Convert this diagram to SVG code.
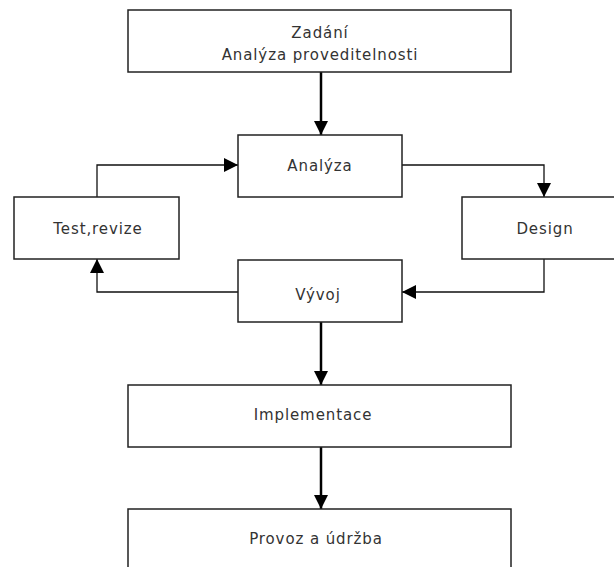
<svg xmlns="http://www.w3.org/2000/svg" width="614" height="567" viewBox="0 0 614 567">
<style>
  .box { fill: #ffffff; stroke: #222222; stroke-width: 1.5; }
  .lbl { font-family: "DejaVu Sans", Verdana, sans-serif; font-size: 15px; letter-spacing: 0.9px; fill: #333333; text-anchor: middle; }
  .thick { fill: none; stroke: #000000; stroke-width: 2.5; }
  .thin { fill: none; stroke: #111111; stroke-width: 1.3; }
</style>
<defs>
  <marker id="ah" markerUnits="userSpaceOnUse" viewBox="0 0 14 14" refX="14" refY="7" markerWidth="14" markerHeight="14" orient="auto">
    <path d="M0,0 L14,7 L0,14 Z" fill="#000000"/>
  </marker>
</defs>
<rect width="614" height="567" fill="#ffffff"/>
<g id="connectors">
  <line class="thick" x1="321" y1="72" x2="321" y2="135" marker-end="url(#ah)"/>
  <polyline class="thin" points="402,165 544,165 544,197" marker-end="url(#ah)"/>
  <polyline class="thin" points="544,259 544,292 402,292" marker-end="url(#ah)"/>
  <polyline class="thin" points="238,292 97,292 97,259" marker-end="url(#ah)"/>
  <polyline class="thin" points="97,197 97,165 238,165" marker-end="url(#ah)"/>
  <line class="thick" x1="321" y1="322" x2="321" y2="385" marker-end="url(#ah)"/>
  <line class="thick" x1="321" y1="447" x2="321" y2="509" marker-end="url(#ah)"/>
</g>
<g id="zadani">
  <rect class="box" x="128" y="10" width="383" height="62"/>
  <text class="lbl" x="320" y="38">Zadání</text>
  <text class="lbl" x="320" y="60">Analýza proveditelnosti</text>
</g>
<g id="analyza">
  <rect class="box" x="238" y="135" width="164" height="62"/>
  <text class="lbl" x="320" y="171">Analýza</text>
</g>
<g id="test">
  <rect class="box" x="14" y="197" width="165" height="62"/>
  <text class="lbl" x="98" y="234">Test,revize</text>
</g>
<g id="design">
  <rect class="box" x="462" y="197" width="164" height="62"/>
  <text class="lbl" x="545" y="234">Design</text>
</g>
<g id="vyvoj">
  <rect class="box" x="238" y="260" width="164" height="62"/>
  <text class="lbl" x="318" y="300">Vývoj</text>
</g>
<g id="implementace">
  <rect class="box" x="128" y="385" width="383" height="62"/>
  <text class="lbl" x="313" y="420">Implementace</text>
</g>
<g id="provoz">
  <rect class="box" x="128" y="509" width="383" height="70"/>
  <text class="lbl" x="316" y="544">Provoz a údržba</text>
</g>
</svg>
